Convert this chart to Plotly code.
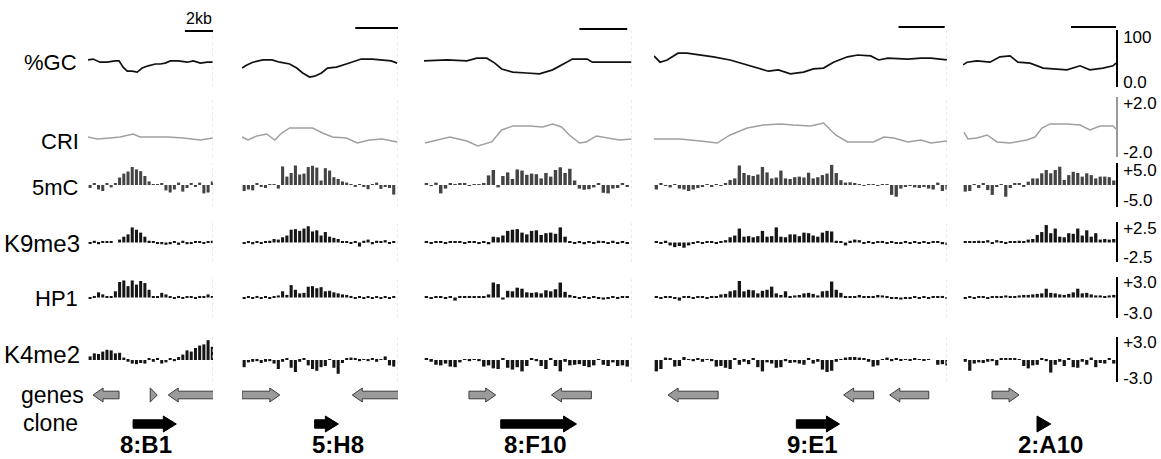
import plotly.graph_objects as go

W, H = 1161, 459

# ---------------- data ----------------
clones = ["8:B1", "5:H8", "8:F10", "9:E1", "2:A10"]
clone_label_kb = [4.14, 4.47, 4.67, 6.87, 3.87]
locus_kb = [8.9, 7.3, 8.7, 12.7, 6.8]          # length of each locus shown
bin_kb = [0.3, 0.2, 0.2, 0.2, 0.2]             # probe bin size per locus
track_names = ["%GC", "CRI", "5mC", "K9me3", "HP1", "K4me2"]

gc_x = [
    [0, 0.36, 0.86, 1.36, 1.93, 2.21, 2.5, 2.79, 3.14, 3.5, 3.86, 4.29, 4.79, 5.14, 5.5, 5.86, 6.43, 7.07, 7.5, 8.0, 8.5, 8.93],
    [0, 0.23, 0.51, 0.98, 1.4, 1.77, 2.23, 2.56, 2.84, 3.16, 3.4, 3.72, 4.0, 4.42, 4.88, 5.35, 5.58, 6.09, 6.56, 6.98, 7.26],
    [0, 0.96, 1.79, 2.21, 2.63, 2.96, 3.25, 3.71, 4.29, 4.83, 5.38, 5.79, 6.21, 6.83, 7.04, 7.88, 8.67],
    [0, 0.26, 0.57, 1.04, 1.43, 2.0, 2.57, 3.3, 4.04, 4.61, 4.96, 5.39, 5.91, 6.48, 6.91, 7.35, 7.78, 8.39, 8.83, 9.39, 9.74, 10.13, 11.0, 11.57, 12.0, 12.7],
    [0, 0.18, 0.62, 1.2, 1.64, 2.09, 2.44, 2.98, 3.56, 4.0, 4.62, 5.2, 5.64, 6.22, 6.67, 6.8],
]
gc_y = [
    [49, 51, 44, 44, 47, 47, 33, 24, 24, 22, 31, 36, 40, 40, 42, 47, 47, 44, 47, 42, 44, 44],
    [31, 38, 44, 49, 49, 44, 40, 31, 20, 11, 13, 20, 31, 33, 40, 47, 51, 51, 49, 47, 42],
    [47, 49, 47, 53, 53, 42, 29, 22, 20, 18, 27, 38, 51, 51, 44, 44, 44],
    [58, 44, 49, 64, 64, 60, 56, 49, 38, 29, 24, 27, 18, 22, 29, 31, 44, 56, 60, 58, 49, 53, 51, 53, 53, 49],
    [38, 44, 47, 44, 56, 58, 44, 42, 31, 29, 27, 36, 27, 31, 36, 42],
]

cri_x = [
    [0, 0.64, 1.57, 2.29, 3.21, 3.71, 4.43, 5.64, 6.79, 8.0, 8.93],
    [0, 0.28, 0.7, 1.16, 1.53, 1.86, 2.23, 2.7, 3.3, 3.77, 4.23, 4.88, 5.4, 5.95, 6.56, 7.26],
    [0.04, 0.54, 1.08, 1.79, 2.25, 2.83, 3.25, 3.71, 4.42, 4.96, 5.38, 5.75, 6.08, 6.5, 6.79, 7.21, 7.75, 8.17, 8.67],
    [0, 1.13, 2.0, 2.74, 3.3, 4.04, 4.74, 5.48, 6.04, 6.78, 7.35, 7.52, 7.87, 8.39, 8.96, 9.52, 9.96, 10.39, 11.0, 11.57, 12.0, 12.7],
    [0.04, 0.22, 0.62, 1.07, 1.51, 2.09, 2.84, 3.2, 3.51, 3.87, 4.62, 5.2, 5.64, 6.09, 6.67, 6.8],
]
cri_y = [
    [-0.78, -0.94, -0.86, -0.78, -0.53, -0.78, -0.78, -0.78, -0.86, -1.02, -0.86],
    [-0.78, -1.02, -0.69, -0.53, -1.02, -0.45, -0.04, -0.04, -0.04, -0.45, -0.78, -0.86, -1.27, -1.02, -0.94, -1.18],
    [-1.27, -1.02, -0.78, -1.1, -1.51, -1.18, -0.2, 0.12, 0.12, 0.04, 0.29, 0.04, -0.61, -1.27, -1.18, -0.69, -0.86, -1.02, -0.94],
    [-0.94, -0.94, -1.1, -1.27, -0.61, -0.04, 0.2, 0.29, 0.2, 0.12, 0.37, 0.04, -0.61, -1.18, -1.18, -1.18, -0.78, -0.86, -1.18, -1.02, -1.27, -1.1],
    [-0.37, -0.94, -0.86, -0.61, -1.18, -1.27, -1.02, -0.78, -0.04, 0.29, 0.29, 0.2, -0.2, 0.12, 0.12, -0.12],
]

mc5 = [
    [-1.0, 0.5, -1.5, -2.0, 0.6, -0.8, 0.4, 2.5, 3.8, 4.5, 6.0, 5.2, 4.6, 3.0, 1.2, 0.2, 0.1, 0.5, -1.8, -2.5, -1.5, 0.8, -2.2, -1.0, 0.6, -0.4, 0.8, -2.8, -2.5, 1.2],
    [-2.0, -1.5, -1.8, 0.6, -0.5, -1.0, 0.2, 0.3, -1.2, 6.2, 2.8, 4.0, 6.5, 3.5, 3.8, 6.0, 6.4, 5.8, 1.5, 5.6, 4.8, 2.6, 2.0, 1.2, 0.8, 0.2, -0.6, 0.1, -0.5, -1.4, 0.1, 0.8, -1.3, -0.5, -1.0, -3.2],
    [0.5, -0.3, 0.8, -2.8, -1.2, 0.5, 0.3, 0.6, 0.4, -0.2, 0.2, 0.1, 0.6, 3.2, 5.0, -0.8, 3.0, 4.2, 2.0, 5.2, 4.8, 3.4, 3.8, 3.6, 2.2, 4.0, 2.8, 5.0, 5.9, 4.0, 5.4, 1.5, -1.2, -1.6, -1.4, -0.8, 0.4, -2.6, -2.8, -1.2, -1.0, 0.4, -0.6],
    [-1.5, 0.4, -0.3, -0.8, 0.3, -1.2, -1.5, -2.0, -1.5, -1.0, -0.6, 0.3, -0.4, 0.2, -0.3, 0.5, 1.7, 2.2, 6.5, 4.0,
     3.3, 3.0, 3.5, 6.0, 4.2, 2.2, 2.5, 4.8, 2.2, 2.0, 2.6, 2.8, 2.5, 4.1, 2.2, 2.6, 3.3, 3.8, 6.7, 4.0,
     1.6, 0.8, 0.9, 0.5, 0.2, -0.2, 0.3, 0.1, -0.3, 0.2, 0.3, -3.3, -3.9, -1.2, -0.5, -0.3, -0.8, -1.0, -0.6, -1.2,
     -1.5, 0.8, -2.0, -1.5],
    [-2.2, -2.0, 0.3, -1.0, 0.4, -1.7, -3.3, -0.4, 0.3, -3.9, -1.0, 0.5, 0.6, -0.5, 1.1, 2.2, 2.2, 3.9, 5.0, 3.9, 5.0, 6.1, 1.7, 3.3, 4.4, 4.0, 2.8, 3.9, 3.3, 2.2, 2.8, 2.8, 2.6, 1.5],
]
k9me3 = [
    [-0.2, 0.3, -0.3, 0.2, 0.1, 0.1, 0.0, 0.5, 1.0, 1.4, 2.6, 2.2, 1.7, 1.0, 0.3, 0.1, -0.2, -0.3, -0.4, -0.3, 0.2, -0.4, 0.3, -0.3, -0.2, 0.1, 0.2, -0.2, 0.1, 0.3],
    [-0.2, 0.1, -0.3, 0.2, -0.1, 0.1, 0.3, 0.6, 0.5, 0.9, 1.2, 2.2, 2.3, 2.0, 2.4, 2.8, 1.9, 2.1, 1.2, 1.8, 1.0, 0.8, 0.6, 0.2, 0.1, -0.1, 0.2, -0.7, 0.3, 0.5, -0.3, 0.3, 0.2, 0.4, -0.1, 0.1],
    [0.1, -0.2, 0.2, 0.1, -0.2, 0.2, 0.1, 0.2, -0.1, 0.2, 0.1, -0.2, 0.2, -0.3, 1.0, 0.9, 1.2, 2.0, 2.2, 2.3, 1.7, 1.4, 2.0, 2.1, 1.3, 1.6, 1.7, 1.5, 2.6, 1.0, 0.2, -0.2, 0.2, -0.3, 0.2, -0.2, 0.3, 0.2, -0.2, 0.3, -0.1, 0.2, -0.2],
    [0.1, -0.2, 0.3, -0.5, -0.8, -0.6, -0.9, -0.5, -0.2, 0.2, -0.1, 0.1, 0.2, -0.1, 0.2, 0.4, 0.9, 1.2, 2.4, 1.0,
     1.1, 0.9, 1.1, 2.0, 1.0, 1.1, 2.6, 1.0, 0.9, 1.4, 1.4, 1.1, 1.7, 1.6, 1.2, 1.0, 1.7, 2.0, 1.9, 0.3,
     0.1, -0.5, 0.3, 0.5, 0.4, -0.1, 0.2, -0.2, 0.2, 0.1, -0.2, 0.1, -0.2, -0.2, 0.1, -0.1, 0.2, -0.1, 0.1, -0.1,
     0.2, 0.1, -0.3, -0.4],
    [0.1, 0.2, 0.1, 0.3, 0.2, 0.4, -0.1, 0.4, 0.1, -0.2, 0.1, 0.2, 0.3, 0.2, 0.5, 0.6, 1.3, 1.8, 3.0, 1.6, 2.4, 1.0, 0.9, 1.6, 1.5, 2.4, 1.2, 2.1, 1.0, 1.6, 0.5, 0.6, 0.5, 0.6],
]
hp1 = [
    [-0.2, 0.3, 1.0, 0.6, 0.1, 0.2, 1.2, 3.0, 3.3, 2.2, 3.3, 2.5, 3.2, 2.8, 1.5, 0.2, 0.1, 0.9, 0.6, 0.2, -0.2, 0.3, -0.2, 0.2, 0.1, -0.2, 0.3, 0.1, 0.6, 0.2],
    [-0.3, 0.2, -0.2, 0.3, -0.2, 0.1, -0.1, 0.2, 0.4, 1.2, 0.5, 2.4, 1.5, 0.8, 0.9, 2.1, 2.2, 1.8, 2.0, 1.2, 1.3, 1.0, 0.8, 0.6, 0.5, 0.3, -0.1, 0.1, -0.2, 0.2, -0.1, 0.1, -0.3, 0.1, -0.2, 0.1],
    [0.2, -0.1, 0.2, 0.1, -0.1, 0.2, -0.6, 0.3, 0.2, 0.3, 0.1, 0.2, 0.1, 0.6, 2.9, 2.6, -0.4, 1.3, 1.2, 1.9, 1.7, 1.0, 0.9, 1.0, 0.8, 1.4, 1.2, 1.6, 2.9, 1.1, 0.5, 0.1, -0.1, 0.2, -0.2, 0.2, -0.1, -0.4, -0.3, 0.1, -0.2, 0.1, 0.2],
    [0.1, -0.1, 0.2, 0.1, -0.2, -0.6, 0.2, 0.3, -0.1, 0.2, 0.1, -0.2, 0.1, 0.2, 0.6, 0.7, 1.2, 1.4, 3.2, 1.2,
     1.5, 1.4, 0.8, 1.3, 1.5, 2.1, 0.8, 0.5, 1.2, 0.3, 0.4, 0.5, 0.8, 0.9, 0.7, 0.4, 1.2, 1.3, 3.1, 1.5,
     0.9, 0.3, 0.2, 0.1, 0.5, 0.2, 0.1, 0.2, 0.5, 0.4, 0.1, -0.3, -0.3, -0.4, -0.2, -0.3, 0.1, -0.2, 0.1, -0.1,
     0.2, 0.1, 0.3, -0.2],
    [-0.1, 0.1, -0.2, 0.1, 0.2, -0.1, 0.1, 0.3, 0.2, 0.4, 0.3, 0.2, 0.4, 0.5, 0.5, 0.6, 0.7, 0.8, 1.7, 0.9, 0.8, 0.6, 0.5, 0.7, 1.0, 1.7, 0.8, 0.9, 0.6, 0.4, 0.4, 0.3, 0.4, 0.5],
]
k4me2 = [
    [0.6, 1.1, 1.0, 1.4, 1.7, 1.6, 1.1, 1.2, 0.4, -0.3, -0.6, -0.7, -0.5, -0.6, 0.2, -0.3, 0.3, -0.6, -0.4, 0.2, -0.2, 0.5, 0.9, 1.6, 1.4, 2.0, 2.4, 2.6, 3.3, 2.2],
    [-1.2, -0.4, -0.3, -0.2, -0.5, -0.3, -0.2, -0.6, -1.5, -0.3, 0.2, -1.3, -2.0, -0.3, 0.3, -0.9, -1.5, -1.8, -1.2, -1.0, 0.1, -1.3, -2.3, -0.5, 0.2, 0.4, 0.2, -0.2, 0.1, -0.2, 0.2, -0.3, 0.1, 0.6, -0.9, -1.1],
    [0.2, -0.3, -0.8, -0.9, -0.6, -1.1, -1.2, -0.4, 0.1, -0.2, 0.1, -0.2, -1.1, -0.9, -1.4, -1.5, 0.3, -1.3, -1.6, -1.2, -1.9, -1.0, 0.2, -0.2, -1.0, -1.5, 0.3, -1.0, -1.9, -0.3, -0.9, -0.8, -0.7, -1.0, -1.2, -0.9, 0.1, -0.8, -1.0, -0.4, -1.0, -0.9, -1.1],
    [-1.9, -1.5, 0.4, 0.3, -1.1, -1.0, 0.5, 0.1, -0.2, 0.2, -0.3, 0.1, -0.2, -1.1, -1.0, -1.3, -1.5, 0.3, -0.8, -0.3,
     -0.7, 0.3, -1.2, -1.9, -0.4, -0.6, -1.3, -1.2, -0.2, -0.5, -0.4, -0.6, -0.8, 0.3, -0.6, -0.3, -1.6, -2.0, -1.8, -0.3,
     0.1, 0.4, 0.5, 0.5, 0.4, 0.3, -0.3, -1.1, -0.9, 0.1, 0.4, -0.2, 0.2, -0.1, 0.1, -0.1, 0.2, 0.1, -0.1, 0.1,
     0.0, -0.8, -0.7, -0.9],
    [-0.3, -1.8, -0.6, -0.4, -0.5, -0.3, -0.2, -0.9, 0.2, 0.3, 0.2, 0.3, 0.1, -1.0, -1.4, -0.9, -0.8, 0.3, -0.2, -2.1, -0.8, -0.3, -1.0, 0.3, -1.2, -1.3, -0.3, -0.8, 0.4, -1.2, -0.5, -0.6, 0.3, -0.6],
]

# genes: (start kb, end kb, strand)
genes = [
    [(0.36, 2.21, -1), (4.43, 4.93, 1), (5.71, 9.14, -1)],
    [(0.0, 1.77, 1), (5.16, 7.44, -1)],
    [(1.88, 3.0, 1), (5.33, 7.0, -1)],
    [(0.61, 2.78, -1), (8.22, 9.52, -1), (10.22, 11.91, -1)],
    [(1.29, 2.49, 1)],
]
clone_span = [(3.21, 6.29), (3.4, 4.51), (3.21, 6.38), (6.17, 8.04), (3.29, 3.9)]

scale_kb = 2
scale_end_kb = [8.9, 7.3, 8.5, 12.6, 6.8]

right_ticks = [(100, 0, "100", "0.0"), (2, -2, "+2.0", "-2.0"), (5, -5, "+5.0", "-5.0"),
               (2.5, -2.5, "+2.5", "-2.5"), (3, -3, "+3.0", "-3.0"), (3, -3, "+3.0", "-3.0")]

# ---------------- layout geometry (pixels) ----------------
col_px = [(88, 213), (242, 398), (424, 632), (654, 947), (963, 1116)]
track_px = [(30, 87), (97, 157), (163, 207), (222, 262), (277, 318), (337, 382)]
track_range = [(-11.1, 115.6), (-2.41, 2.49), (-7.33, 7.33), (-3.36, 3.53), (-3.97, 3.97), (-3.67, 3.83)]
annot_px = (383, 435)
scale_bar_py = [31, 28, 29, 27, 27]
label_py = [62, 141, 188, 243, 298, 354, 395, 423]
label_rx = [79, 81, 81, 82, 80, 82, 86, 80]
label_size = [22, 22, 22, 24, 22, 24, 23, 23]
FONT = "Liberation Sans, Arial, sans-serif"


def fx(px):
    return px / W


def fy(py):
    return 1 - py / H


def aid(c, t):
    return c * 7 + t + 1


def nm(prefix, n):
    return prefix if n == 1 else f"{prefix}{n}"


fig = go.Figure()
layout = dict(width=W, height=H, margin=dict(l=0, r=0, t=0, b=0),
              paper_bgcolor="white", plot_bgcolor="rgba(0,0,0,0)",
              showlegend=False, barmode="overlay", font=dict(family=FONT, color="black"))
shapes = []
annotations = []


def arrow_poly(s, e, strand, yc, bh, hh, hl):
    if strand > 0:
        base, tip, hb = s, e, e - hl
    else:
        base, tip, hb = e, s, s + hl
    if abs(e - s) <= hl * 1.2:
        xs = [base, tip, base, base]
        ys = [yc - hh, yc, yc + hh, yc - hh]
    else:
        xs = [base, hb, hb, tip, hb, hb, base, base]
        ys = [yc - bh, yc - bh, yc - hh, yc, yc + hh, yc + bh, yc + bh, yc - bh]
    return xs, ys


bar_series = [None, None, mc5, k9me3, hp1, k4me2]
bar_colors = [None, None, "#444444", "#151515", "#151515", "#151515"]

for c in range(5):
    L = locus_kb[c]
    x0p, x1p = col_px[c]
    kb_per_px = L / (x1p - x0p)
    for t in range(7):
        n = aid(c, t)
        xa, ya = nm("xaxis", n), nm("yaxis", n)
        xr, yr = nm("x", n), nm("y", n)
        layout[xa] = dict(domain=[fx(x0p), fx(x1p)], range=[0, L], anchor=yr,
                          visible=False, fixedrange=True)
        if t < 6:
            tp, bp = track_px[t]
            ylo, yhi = track_range[t]
        else:
            tp, bp = annot_px
            ylo, yhi = 0, bp - tp
        yax = dict(domain=[fy(bp), fy(tp)], range=[ylo, yhi], anchor=xr,
                   showgrid=False, zeroline=False, fixedrange=True)
        if c == 4 and t < 6:
            hi, lo, th, tl = right_ticks[t]
            yax.update(visible=True, side="right", showline=True,
                       linecolor="#999999" if t == 1 else "black",
                       linewidth=1.5, ticks="", tickvals=[hi, lo], ticktext=[th, tl],
                       tickfont=dict(size=17, family=FONT, color="black"),
                       ticklabelstandoff=2, automargin=False)
        else:
            yax.update(visible=False)
        layout[ya] = yax

        if t == 0:
            fig.add_trace(go.Scatter(x=gc_x[c], y=gc_y[c], mode="lines", xaxis=xr, yaxis=yr,
                                     line=dict(color="#111111", width=1.7), hoverinfo="skip"))
        elif t == 1:
            fig.add_trace(go.Scatter(x=cri_x[c], y=cri_y[c], mode="lines", xaxis=xr, yaxis=yr,
                                     line=dict(color="#a0a0a0", width=1.5), hoverinfo="skip"))
        elif t < 6:
            vals = bar_series[t][c]
            b = bin_kb[c]
            centers = [(i + 0.5) * b for i in range(len(vals))]
            fig.add_trace(go.Bar(x=centers, y=vals, width=b * 0.72, xaxis=xr, yaxis=yr,
                                 marker=dict(color=bar_colors[t], line=dict(width=0)),
                                 hoverinfo="skip"))
        else:
            # genes row and clone row (y in pixel units from bottom of the strip)
            gy = bp - label_py[6]
            cy = bp - label_py[7] - 1
            hl_g = 10 * kb_per_px
            for (s, e, st) in genes[c]:
                xs, ys = arrow_poly(s, e, st, gy, 3.8, 7, hl_g)
                fig.add_trace(go.Scatter(x=xs, y=ys, mode="lines", fill="toself",
                                         fillcolor="#9b9b9b", line=dict(color="#3c3c3c", width=1),
                                         xaxis=xr, yaxis=yr, hoverinfo="skip"))
            s, e = clone_span[c]
            xs, ys = arrow_poly(s, e, 1, cy, 4.2, 8, 13 * kb_per_px)
            fig.add_trace(go.Scatter(x=xs, y=ys, mode="lines", fill="toself",
                                     fillcolor="black", line=dict(color="black", width=1),
                                     xaxis=xr, yaxis=yr, hoverinfo="skip"))
            annotations.append(dict(x=clone_label_kb[c], xref=xr, y=0, yref="paper",
                                    text=f"<b>{clones[c]}</b>", showarrow=False,
                                    xanchor="center", yanchor="bottom", borderpad=0,
                                    font=dict(size=24, family=FONT, color="black")))

        # faint dotted right boundary of each panel
        if t < 6 and c < 4:
            shapes.append(dict(type="line", xref=xr, yref=f"{yr} domain", x0=L, x1=L, y0=0, y1=1,
                               line=dict(color="#d6d6d6", width=1, dash="dot")))

    # 2 kb scale bar
    gx = nm("x", aid(c, 0))
    se = scale_end_kb[c]
    shapes.append(dict(type="line", xref=gx, yref="paper", x0=se - scale_kb, x1=se,
                       y0=fy(scale_bar_py[c]), y1=fy(scale_bar_py[c]),
                       line=dict(color="black", width=2)))
    if c == 0:
        annotations.append(dict(x=se - scale_kb / 2, xref=gx, y=fy(scale_bar_py[c] - 2), yref="paper",
                                text="2kb", showarrow=False, xanchor="center", yanchor="bottom",
                                font=dict(size=16, family=FONT, color="black")))

# row labels
row_labels = track_names + ["genes", "clone"]
for lab, py, rx, sz in zip(row_labels, label_py, label_rx, label_size):
    annotations.append(dict(x=fx(rx), xref="paper", y=fy(py), yref="paper", text=lab,
                            showarrow=False, xanchor="right", yanchor="middle",
                            font=dict(size=sz, family=FONT, color="black")))

layout["shapes"] = shapes
layout["annotations"] = annotations
fig.update_layout(**layout)
fig.write_html("out.html", config={"displayModeBar": False},
               post_script="document.body.style.margin='0px';document.body.style.overflow='hidden';")
